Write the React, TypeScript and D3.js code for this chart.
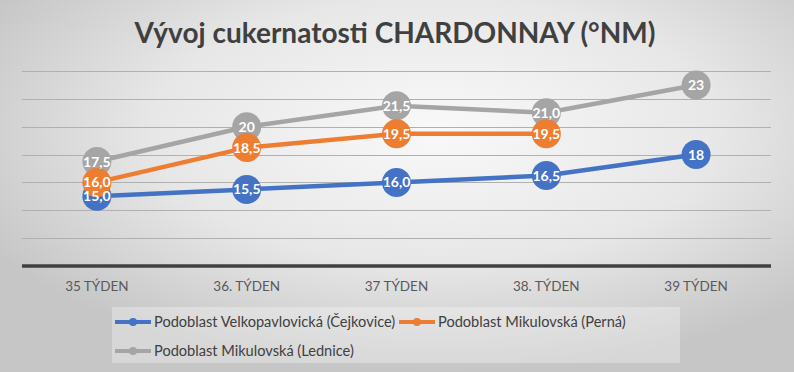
import React, { useEffect, useRef } from "react";
import * as d3 from "d3";

const weeks = ["35 TÝDEN", "36. TÝDEN", "37 TÝDEN", "38. TÝDEN", "39 TÝDEN"];

const cejkoviceValues = [15.0, 15.5, 16.0, 16.5, 18];
const cejkoviceLabels = ["15,0", "15,5", "16,0", "16,5", "18"];
const pernaValues = [16.0, 18.5, 19.5, 19.5, null];
const pernaLabels = ["16,0", "18,5", "19,5", "19,5", ""];
const ledniceValues = [17.5, 20, 21.5, 21.0, 23];
const ledniceLabels = ["17,5", "20", "21,5", "21,0", "23"];

const yTicks = [10, 12, 14, 16, 18, 20, 22, 24];

const seriesNames = [
  "Podoblast Velkopavlovická (Čejkovice)",
  "Podoblast Mikulovská (Perná)",
  "Podoblast Mikulovská (Lednice)",
];

const App = () => {
  const svgRef = useRef(null);

  useEffect(() => {
    const width = 794,
      height = 372;
    const font = "Lato, 'Open Sans', sans-serif";

    const series = [
      { name: seriesNames[0], values: cejkoviceValues, labels: cejkoviceLabels, color: "#4472C4" },
      { name: seriesNames[1], values: pernaValues, labels: pernaLabels, color: "#ED7D31" },
      { name: seriesNames[2], values: ledniceValues, labels: ledniceLabels, color: "#A5A5A5" },
    ];

    const svg = d3
      .select(svgRef.current)
      .attr("width", width)
      .attr("height", height)
      .html("");

    // background gradient like the excel chart area
    const defs = svg.append("defs");
    const grad = defs
      .append("radialGradient")
      .attr("id", "bg")
      .attr("cx", "55%")
      .attr("cy", "35%")
      .attr("r", "65%");
    grad.append("stop").attr("offset", "0%").attr("stop-color", "#f9f9f9");
    grad.append("stop").attr("offset", "55%").attr("stop-color", "#e7e7e7");
    grad.append("stop").attr("offset", "100%").attr("stop-color", "#c6c6c6");

    svg.append("rect").attr("width", width).attr("height", height).attr("fill", "url(#bg)");

    const x = d3.scaleBand().domain(weeks).range([22, 771]);
    const y = d3.scaleLinear().domain([10, 24]).range([266, 71]);
    const cx = (i) => x(weeks[i]) + x.bandwidth() / 2;

    // title
    svg
      .append("text")
      .attr("x", 395)
      .attr("y", 43)
      .attr("text-anchor", "middle")
      .style("font-family", font)
      .style("font-weight", "bold")
      .style("font-size", "28px")
      .style("fill", "#404040")
      .text("Vývoj cukernatosti CHARDONNAY (°NM)");

    // gridlines
    svg
      .append("g")
      .selectAll("line")
      .data(yTicks.slice(1))
      .enter()
      .append("line")
      .attr("x1", 22)
      .attr("x2", 771)
      .attr("y1", (d) => Math.round(y(d)) + 0.5)
      .attr("y2", (d) => Math.round(y(d)) + 0.5)
      .attr("stroke", "#b0b0b0")
      .attr("stroke-width", 1);

    // x axis line
    svg
      .append("line")
      .attr("x1", 22)
      .attr("x2", 771)
      .attr("y1", y(10))
      .attr("y2", y(10))
      .attr("stroke", "#404040")
      .attr("stroke-width", 3.5);

    svg
      .append("g")
      .selectAll("text")
      .data(weeks)
      .enter()
      .append("text")
      .attr("x", (d, i) => cx(i))
      .attr("y", 291)
      .attr("text-anchor", "middle")
      .style("font-family", font)
      .style("font-size", "13.5px")
      .style("fill", "#595959")
      .text((d) => d);

    // lines
    const line = d3
      .line()
      .defined((d) => d != null)
      .x((d, i) => cx(i))
      .y((d) => y(d));

    const drawOrder = [series[2], series[0], series[1]];

    drawOrder.forEach((s) => {
      svg
        .append("path")
        .datum(s.values)
        .attr("d", line)
        .attr("fill", "none")
        .attr("stroke", s.color)
        .attr("stroke-width", 4.5)
        .attr("stroke-linecap", "round");
    });

    // label bubbles
    drawOrder.forEach((s) => {
      svg
        .append("g")
        .selectAll("circle")
        .data(s.values.map((v, i) => ({ v, i })).filter((d) => d.v != null))
        .enter()
        .append("circle")
        .attr("cx", (d) => cx(d.i))
        .attr("cy", (d) => y(d.v))
        .attr("r", 14.5)
        .attr("fill", s.color);
    });

    drawOrder.forEach((s) => {
      svg
        .append("g")
        .selectAll("text")
        .data(s.values.map((v, i) => ({ v, i, t: s.labels[i] })).filter((d) => d.v != null))
        .enter()
        .append("text")
        .attr("x", (d) => cx(d.i))
        .attr("y", (d) => y(d.v))
        .attr("dy", "0.36em")
        .attr("text-anchor", "middle")
        .style("font-family", font)
        .style("font-weight", "bold")
        .style("font-size", "14px")
        .style("fill", "#ffffff")
        .text((d) => d.t);
    });

    // legend
    const legend = svg.append("g");
    legend
      .append("rect")
      .attr("x", 112)
      .attr("y", 307)
      .attr("width", 568)
      .attr("height", 56)
      .attr("fill", "#ffffff")
      .attr("fill-opacity", 0.3);

    const legendPos = [
      { x: 115, y: 322 },
      { x: 399, y: 322 },
      { x: 115, y: 351 },
    ];

    series.forEach((s, i) => {
      const p = legendPos[i];
      legend
        .append("line")
        .attr("x1", p.x)
        .attr("x2", p.x + 36)
        .attr("y1", p.y)
        .attr("y2", p.y)
        .attr("stroke", s.color)
        .attr("stroke-width", 4);
      legend
        .append("circle")
        .attr("cx", p.x + 18)
        .attr("cy", p.y)
        .attr("r", 4)
        .attr("fill", s.color);
      legend
        .append("text")
        .attr("x", p.x + 39)
        .attr("y", p.y)
        .attr("dy", "0.35em")
        .style("font-family", font)
        .style("font-size", "14.6px")
        .style("fill", "#404040")
        .text(s.name);
    });
  }, []);

  return <svg ref={svgRef} style={{ position: "absolute", left: 0, top: 0 }}></svg>;
};

export default App;
